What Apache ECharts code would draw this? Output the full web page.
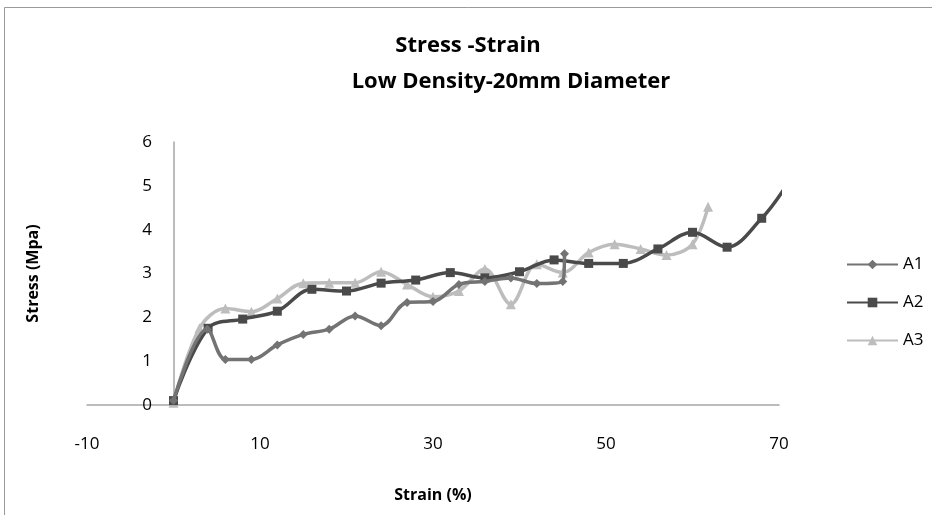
<!DOCTYPE html>
<html>
<head>
<meta charset="utf-8">
<script src="https://cdn.jsdelivr.net/npm/echarts@6/dist/echarts.min.js"></script>
<style>html,body{margin:0;padding:0;background:#fff}#c{width:932px;height:515px}</style>
</head>
<body>
<div id="c"></div>
<script>
const titleLines = ['Stress -Strain', 'Low Density-20mm Diameter'];
const xName = 'Strain (%)';
const yName = 'Stress (Mpa)';
const seriesNames = ['A1', 'A2', 'A3'];

const a1Strain = [0, 3.9, 6, 9, 12, 15, 18, 21, 24, 27, 30, 33, 36, 39, 42, 45, 45.2];
const a1Stress = [0.1, 1.73, 1.04, 1.04, 1.37, 1.61, 1.73, 2.03, 1.81, 2.34, 2.36, 2.75, 2.82, 2.9, 2.77, 2.82, 3.45];

const a2Strain = [0, 4, 8, 12, 16, 20, 24, 28, 32, 36, 40, 44, 48, 52, 56, 60, 64, 68, 70.5];
const a2Stress = [0.1, 1.75, 1.96, 2.14, 2.64, 2.6, 2.78, 2.85, 3.02, 2.9, 3.04, 3.31, 3.23, 3.23, 3.56, 3.94, 3.6, 4.26, 4.9];

const a3Strain = [0, 3, 6, 9, 12, 15, 18, 21, 24, 27, 30, 33, 36, 39, 42, 45, 48, 51, 54, 57, 60, 61.8];
const a3Stress = [0.05, 1.75, 2.2, 2.13, 2.43, 2.78, 2.79, 2.79, 3.04, 2.75, 2.47, 2.6, 3.1, 2.3, 3.21, 3.02, 3.48, 3.67, 3.56, 3.42, 3.67, 4.52];

const xMin = -10, xMax = 70, xStep = 20;
const yMin = 0, yMax = 6, yStep = 1;

function pairs(xs, ys) { return xs.map((x, i) => [x, ys[i]]); }

const FONT = '"Open Sans", Lato, sans-serif';
const colors = ['#737373', '#4a4a4a', '#bdbdbd'];
const symbols = ['diamond', 'rect', 'triangle'];
const sizes = [9, 9, 10];
const datas = [pairs(a1Strain, a1Stress), pairs(a2Strain, a2Stress), pairs(a3Strain, a3Stress)];
const titleStyle = {fontFamily: FONT, fontWeight: 'bold', fontSize: 22, color: '#000'};

const chart = echarts.init(document.getElementById('c'), null, {renderer: 'canvas'});
chart.setOption({
  animation: false,
  backgroundColor: '#fff',
  graphic: [{
    type: 'rect', shape: {x: 4.5, y: 7.5, width: 1000, height: 600},
    style: {fill: 'none', stroke: '#9a9a9a', lineWidth: 1}, silent: true, z: -1
  }],
  title: [
    {text: titleLines[0], left: 468, top: 35, textAlign: 'center', padding: 0, textStyle: titleStyle},
    {text: titleLines[1], left: 511, top: 71, textAlign: 'center', padding: 0, textStyle: titleStyle}
  ],
  legend: {
    orient: 'vertical', left: 841, top: 251,
    itemWidth: 51, itemHeight: 12, itemGap: 21,
    textStyle: {fontFamily: FONT, fontSize: 17, color: '#000'},
    data: seriesNames
  },
  grid: {left: 87, right: 153, top: 142, bottom: 110, containLabel: false, outerBoundsMode: 'none'},
  xAxis: {
    type: 'value', min: xMin, max: xMax, interval: xStep,
    name: xName, nameLocation: 'middle', nameGap: 82,
    nameTextStyle: {fontFamily: FONT, fontWeight: 'bold', fontSize: 16, color: '#000'},
    axisLine: {show: true, onZero: false, lineStyle: {color: '#a6a6a6', width: 1.5}},
    axisTick: {show: false},
    splitLine: {show: false},
    axisLabel: {margin: 31, fontFamily: FONT, fontSize: 17, color: '#000'}
  },
  yAxis: {
    type: 'value', min: yMin, max: yMax, interval: yStep,
    name: yName, nameLocation: 'middle', nameGap: 46,
    nameTextStyle: {fontFamily: FONT, fontWeight: 'bold', fontSize: 16, color: '#000'},
    axisLine: {show: true, onZero: true, lineStyle: {color: '#a6a6a6', width: 1.5}},
    axisTick: {show: false},
    splitLine: {show: false},
    axisLabel: {margin: -65, fontFamily: FONT, fontSize: 17, color: '#000'}
  },
  series: seriesNames.map((n, i) => ({
    name: n, type: 'line', data: datas[i], smooth: 0.35,
    symbol: symbols[i], symbolSize: sizes[i], showSymbol: true,
    lineStyle: {color: colors[i], width: 3.5},
    itemStyle: {color: colors[i], borderWidth: 0},
    z: i === 2 ? 2 : (i === 1 ? 3 : 4)
  }))
});
</script>
</body>
</html>
